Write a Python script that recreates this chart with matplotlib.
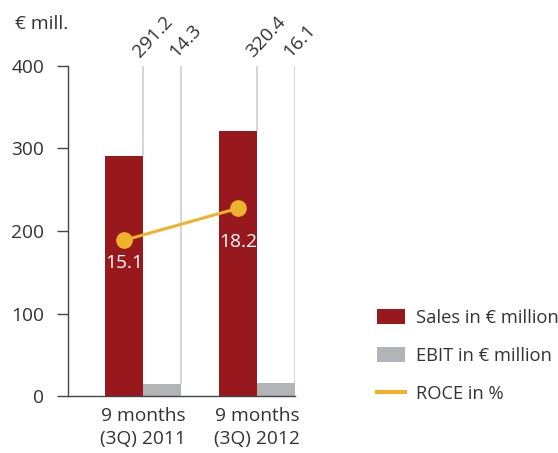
import matplotlib
matplotlib.use("Agg")
import matplotlib.pyplot as plt
from matplotlib.patches import Patch
from matplotlib.lines import Line2D
import numpy as np

plt.rcParams['font.family'] = ['Open Sans', 'DejaVu Sans']

periods = ["9 months\n(3Q) 2011", "9 months\n(3Q) 2012"]
sales = [291.2, 320.4]
ebit = [14.3, 16.1]
roce = [15.1, 18.2]
sales_labels = ["291.2", "320.4"]
ebit_labels = ["14.3", "16.1"]
roce_labels = ["15.1", "18.2"]
yticks = [0, 100, 200, 300, 400]

RED = "#97191e"
GRAY = "#b3b4b8"
YEL = "#efb22b"
LINE = "#cdcdcd"
TXT = "#333333"
FS = 13.8

W, H = 558, 453
fig = plt.figure(figsize=(W / 100, H / 100), dpi=100)
ax = fig.add_axes([68 / W, 1 - 396.3 / H, 227 / W, 330.6 / H])

group = np.array([0, 3])
sx = group + 0.5
ex = group + 1.5
ax.bar(sx, sales, width=1.0, color=RED, zorder=2)
ax.bar(ex, ebit, width=1.0, color=GRAY, zorder=2)

# thin vertical guide lines at right edges of bars, from top of bar to 400
for i in range(len(group)):
    ax.vlines(sx[i] + 0.5, sales[i], 400, color=LINE, lw=1.2, zorder=1)
    ax.vlines(ex[i] + 0.5, ebit[i], 400, color=LINE, lw=1.2, zorder=1)
    ax.annotate(sales_labels[i], (sx[i] + 0.5, 400), xytext=(-2.5, 5.5),
                textcoords="offset points", rotation=47, rotation_mode="anchor",
                ha="left", va="baseline", fontsize=FS, color=TXT, annotation_clip=False)
    ax.annotate(ebit_labels[i], (ex[i] + 0.5, 400), xytext=(-3.5, 5.5),
                textcoords="offset points", rotation=47, rotation_mode="anchor",
                ha="left", va="baseline", fontsize=FS, color=TXT, annotation_clip=False)

ax.set_xlim(-0.974, 5)
ax.set_ylim(0, 400)
ax.set_yticks(yticks)
ax.set_xticks(group + 1)
ax.set_xticklabels(periods, fontsize=FS, color=TXT, linespacing=1.3)
ax.tick_params(axis="x", length=0, pad=8)
ax.tick_params(axis="y", length=8, width=1, pad=9, labelsize=FS, labelcolor=TXT, color="#444444")
for s in ["top", "right"]:
    ax.spines[s].set_visible(False)
ax.spines["left"].set_color("#444444")
ax.spines["bottom"].set_color("#444444")
ax.spines["left"].set_linewidth(1)
ax.spines["bottom"].set_linewidth(1)

# ROCE on secondary hidden scale
ax2 = ax.twinx()
ax2.set_ylim(0, 32)
ax2.axis("off")
ax2.plot(sx, roce, color=YEL, lw=2.2, marker="o", markersize=11, zorder=3)
offs = [-16, -24]
for i in range(len(sx)):
    ax2.annotate(roce_labels[i], (sx[i], roce[i]), xytext=(0, offs[i]),
                 textcoords="offset points", ha="center", va="center",
                 fontsize=FS, color="white")

fig.text(15 / W, 1 - 24 / H, "€ mill.", fontsize=FS, color=TXT, ha="left", va="center")

handles = [Patch(facecolor=RED), Patch(facecolor=GRAY), Line2D([], [], color=YEL, lw=3)]
labels = ["Sales in € million", "EBIT in € million", "ROCE in %"]
leg = fig.legend(handles, labels, loc="upper left", bbox_to_anchor=(377 / W, 1 - 309 / H),
                 frameon=False, fontsize=13.2, handlelength=1.5, handleheight=0.85,
                 labelspacing=1.08, handletextpad=0.6, borderpad=0, borderaxespad=0)
for t in leg.get_texts():
    t.set_color(TXT)

fig.savefig("out.png", dpi=100)
